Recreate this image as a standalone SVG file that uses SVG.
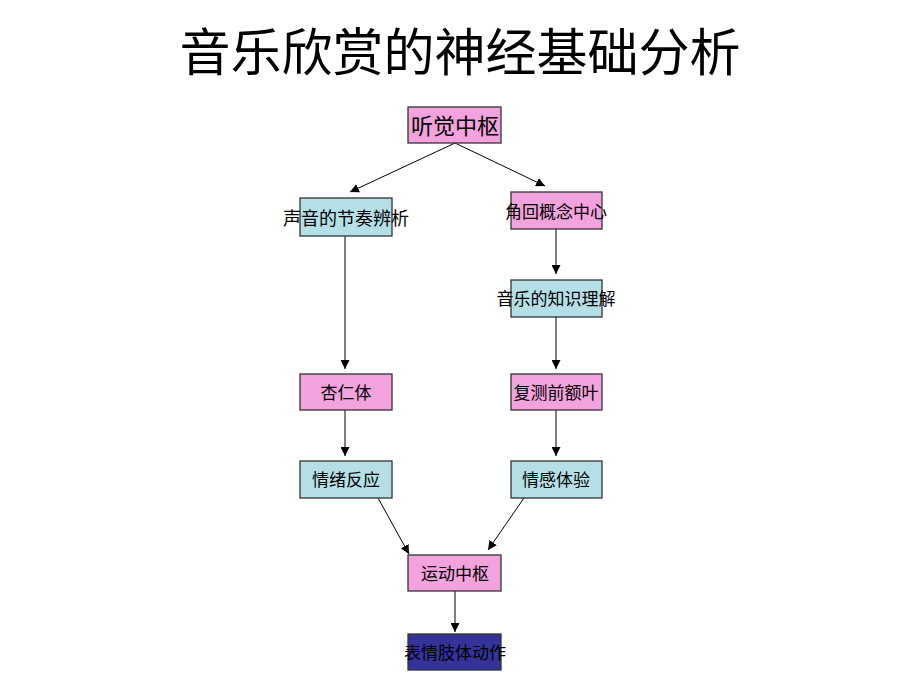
<svg xmlns="http://www.w3.org/2000/svg" width="920" height="690" viewBox="0 0 920 690">
<style>
.pink{fill:#f2a2dc;stroke:#333;stroke-width:1.3}
.blue{fill:#b5dfe6;stroke:#333;stroke-width:1.3}
.dark{fill:#333399;stroke:#333;stroke-width:1.3}
text{font-family:"Liberation Serif","Noto Sans CJK SC",serif;fill:#000;text-anchor:middle;dominant-baseline:central}
.t{font-size:17px}
.c line{stroke:#000;stroke-width:1}
</style>
<defs>
<marker id="ah" viewBox="0 0 10 10" refX="10" refY="5" markerWidth="9" markerHeight="9" markerUnits="userSpaceOnUse" orient="auto"><path d="M0,0 L10,5 L0,10 z" fill="#000"/></marker>
</defs>
<rect width="920" height="690" fill="#fff"/>
<text x="460" y="54" style="font-size:51px">音乐欣赏的神经基础分析</text>
<g class="c">
<line x1="455" y1="143" x2="350" y2="192" marker-end="url(#ah)"/>
<line x1="455" y1="143" x2="545" y2="186" marker-end="url(#ah)"/>
<line x1="345" y1="236" x2="345" y2="369" marker-end="url(#ah)"/>
<line x1="556" y1="229" x2="556" y2="274" marker-end="url(#ah)"/>
<line x1="556" y1="317" x2="556" y2="369" marker-end="url(#ah)"/>
<line x1="345" y1="410" x2="345" y2="456" marker-end="url(#ah)"/>
<line x1="556" y1="410" x2="556" y2="456" marker-end="url(#ah)"/>
<line x1="378" y1="498" x2="409" y2="554" marker-end="url(#ah)"/>
<line x1="524" y1="498" x2="488" y2="550" marker-end="url(#ah)"/>
<line x1="455" y1="591" x2="455" y2="632" marker-end="url(#ah)"/>
</g>
<g id="n1"><rect class="pink" x="408" y="107" width="93" height="36"/><text x="455" y="126" style="font-size:22px">听觉中枢</text></g>
<g id="n2"><rect class="blue" x="300" y="198" width="92" height="38"/><text class="t" x="346" y="219" style="font-size:18px">声音的节奏辨析</text></g>
<g id="n3"><rect class="pink" x="511" y="192" width="91" height="37"/><text class="t" x="556" y="212">角回概念中心</text></g>
<g id="n4"><rect class="blue" x="511" y="280" width="91" height="37"/><text class="t" x="556" y="299">音乐的知识理解</text></g>
<g id="n5"><rect class="pink" x="300" y="374" width="92" height="36"/><text class="t" x="346" y="393">杏仁体</text></g>
<g id="n6"><rect class="pink" x="511" y="374" width="91" height="36"/><text class="t" x="556" y="393">复测前额叶</text></g>
<g id="n7"><rect class="blue" x="300" y="461" width="92" height="37"/><text class="t" x="346" y="480">情绪反应</text></g>
<g id="n8"><rect class="blue" x="511" y="461" width="91" height="37"/><text class="t" x="556" y="480">情感体验</text></g>
<g id="n9"><rect class="pink" x="408" y="555" width="93" height="36"/><text class="t" x="455" y="574">运动中枢</text></g>
<g id="n10"><rect class="dark" x="408" y="634" width="93" height="36"/><text class="t" x="455" y="653">表情肢体动作</text></g>
</svg>
